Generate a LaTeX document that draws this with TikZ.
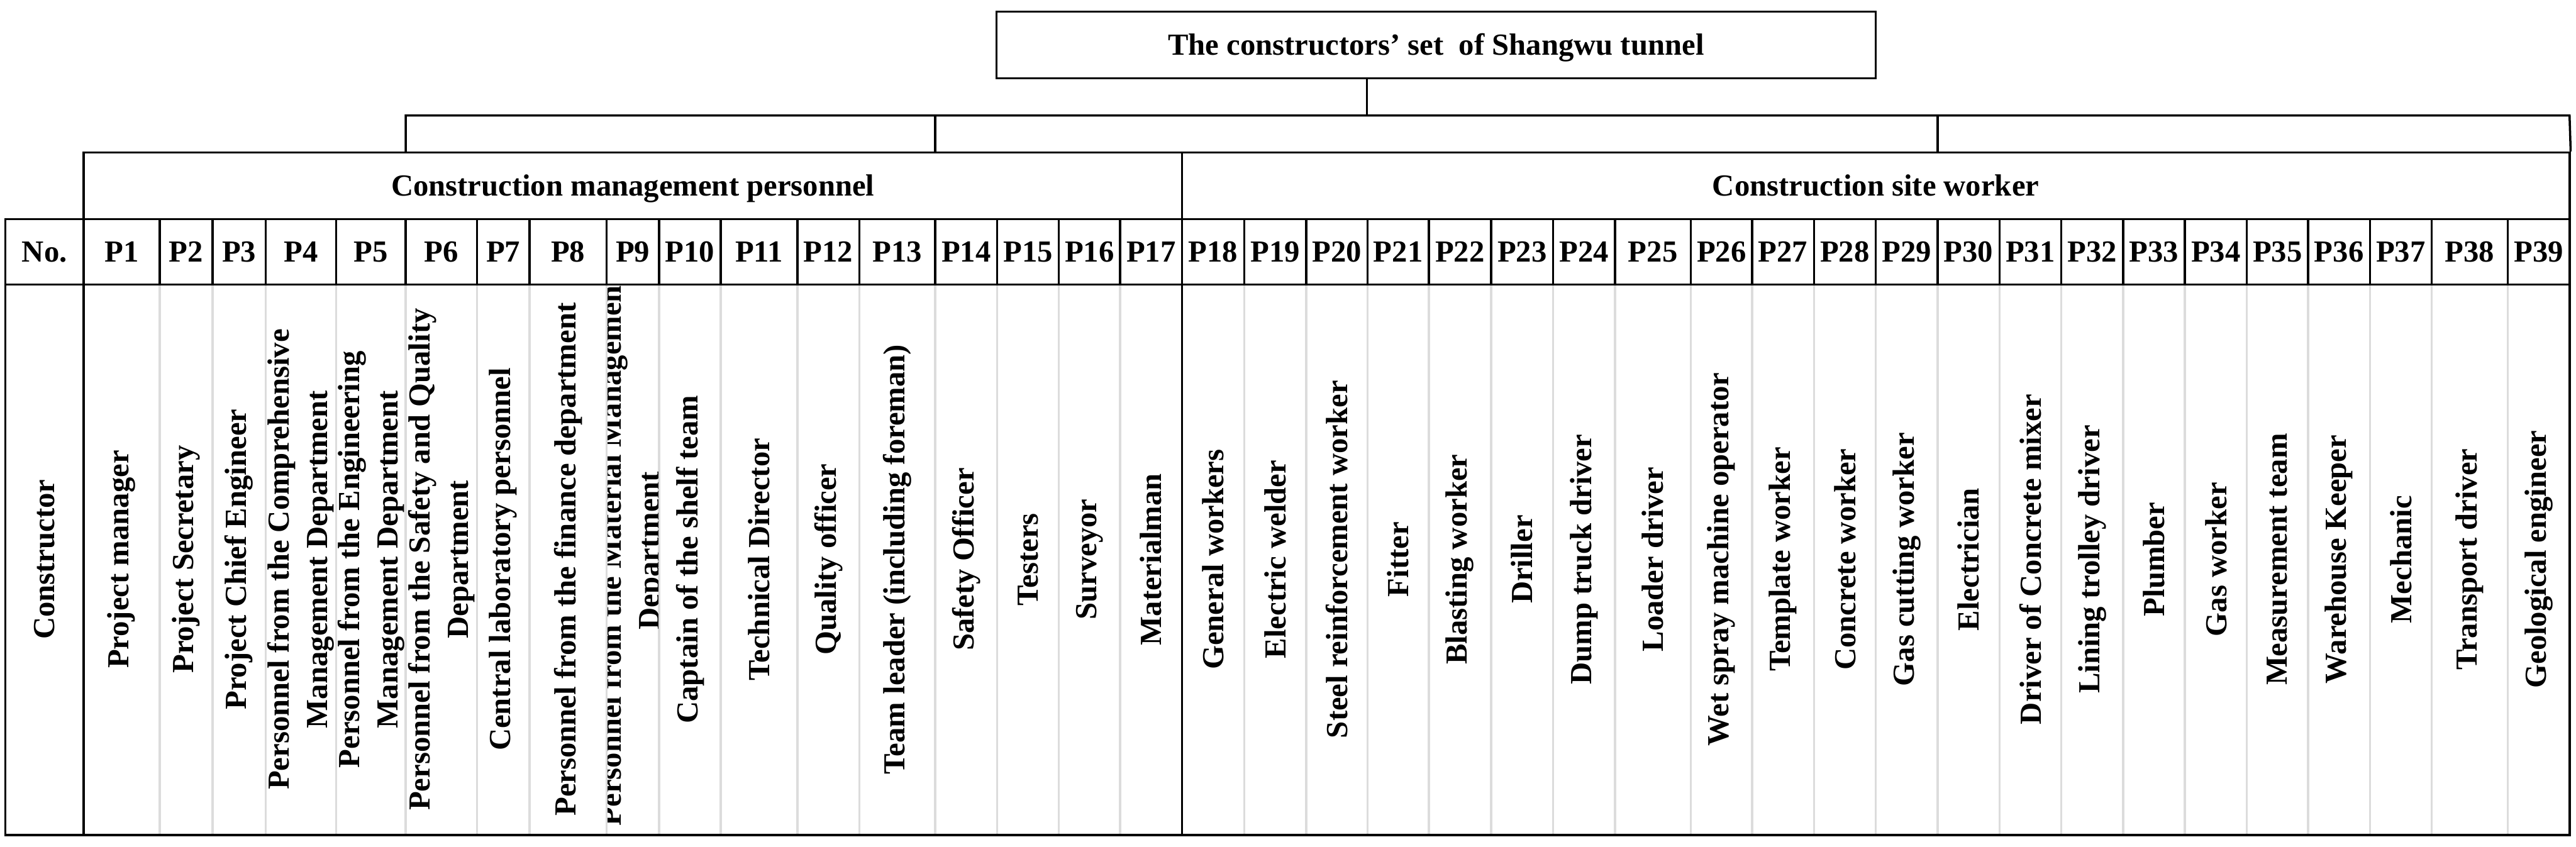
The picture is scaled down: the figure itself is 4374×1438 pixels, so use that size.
\documentclass[tikz,border=0pt]{standalone}
\usepackage{fontspec}
\setmainfont{Liberation Serif}
\definecolor{sepgray}{RGB}{220,220,220}
\begin{document}
\begin{tikzpicture}[x=0.2pt,y=-0.2pt,
  every node/.style={font=\fontsize{10.4}{13}\selectfont\bfseries, inner sep=0pt},
  line/.style={line width=0.75pt, black},
  sepline/.style={line width=0.75pt, sepgray},
  cellbox/.style={draw, line width=0.75pt},
  capcenter/.style={text height=6.9pt, text depth=0pt},
  rotlabel/.style={rotate=90, align=center}]
\useasboundingbox (0,0) rectangle (4374,1438);

% title box and its connector
\node[cellbox, capcenter, minimum width=298.6pt, minimum height=22.6pt] (title) at (2438.5,76.5) {The constructors’ set\ \ of Shangwu tunnel};
\coordinate (joint) at (2321,196);
\draw[line] (title.south -| joint) -- (joint);

% group headers
\node[cellbox, capcenter, minimum width=373pt, minimum height=22.6pt] (mgmt) at (1074.5,315.5) {Construction management personnel};
\node[cellbox, capcenter, minimum width=471.2pt, minimum height=22.6pt] (site) at (3185,315.5) {Construction site worker};

% bracket above the group headers
\coordinate (bkl) at (689,196);
\coordinate (bkr) at (4363,196);
\coordinate (tk1) at (1588,196);
\coordinate (tk2) at (3290,196);
\draw[line] (mgmt.north -| bkl) -- (bkl) -- (bkr) -- (site.north east);
\draw[line] (tk1) -- (tk1 |- mgmt.north);
\draw[line] (tk2) -- (tk2 |- site.north);

% "No." cell
\node[cellbox, capcenter, minimum width=26.6pt, minimum height=22.2pt] (hno) at (75.5,427.5) {No.};

% constructor row: grey separators first
\foreach \x in {271,361,451,571,689,810,899,1030,1119,1224,1354,1459,1588,1693,1798,1902,2113,2218,2322,2426,2532,2637,2742,2871,2975,3080,3185,3290,3395,3500,3605,3710,3815,3919,4024,4129,4258}
  \draw[sepline] (\x,485) -- (\x,1416);
\draw[line] (9,483) rectangle (4363,1418);
\draw[line] (142,483) -- (142,1418);
\draw[line] (2007,483) -- (2007,1418);
\node[rotlabel] (cno) at (75.5,950) {Constructor};

% numbered columns
\foreach \l/\r/\yc/\t [count=\i] in {
 142/271/950/{Project manager},
 271/361/950/{Project Secretary},
 361/451/950/{Project Chief Engineer},
 451/571/950/{Personnel from the Comprehensive\\Management Department},
 571/689/950/{Personnel from the Engineering\\Management Department},
 689/810/950/{Personnel from the Safety and Quality\\Department},
 810/899/950/{Central laboratory personnel},
 899/1030/950/{Personnel from the finance department},
 1030/1119/935/{Personnel from the Material Management\\Department},
 1119/1224/950/{Captain of the shelf team},
 1224/1354/950/{Technical Director},
 1354/1459/950/{Quality officer},
 1459/1588/950/{Team leader (including foreman)},
 1588/1693/950/{Safety Officer},
 1693/1798/950/{Testers},
 1798/1902/950/{Surveyor},
 1902/2007/950/{Materialman},
 2007/2113/950/{General workers},
 2113/2218/950/{Electric welder},
 2218/2322/950/{Steel reinforcement worker},
 2322/2426/950/{Fitter},
 2426/2532/950/{Blasting worker},
 2532/2637/950/{Driller},
 2637/2742/950/{Dump truck driver},
 2742/2871/950/{Loader driver},
 2871/2975/950/{Wet spray machine operator},
 2975/3080/950/{Template worker},
 3080/3185/950/{Concrete worker},
 3185/3290/950/{Gas cutting worker},
 3290/3395/950/{Electrician},
 3395/3500/950/{Driver of Concrete mixer},
 3500/3605/950/{Lining trolley driver},
 3605/3710/950/{Plumber},
 3710/3815/950/{Gas worker},
 3815/3919/950/{Measurement team},
 3919/4024/950/{Warehouse Keeper},
 4024/4129/950/{Mechanic},
 4129/4258/950/{Transport driver},
 4258/4363/950/{Geological engineer}}
{
  \node[cellbox, capcenter, minimum width={(\r-\l)*0.2pt}, minimum height=22.2pt] (h\i) at ({(\l+\r)/2},427.5) {P\i};
  \begin{scope}
    \clip (\l+2,485) rectangle (\r-2,1416);
    \node[rotlabel] (c\i) at ({(\l+\r)/2},\yc) {\t};
  \end{scope}
}
\end{tikzpicture}
\end{document}
